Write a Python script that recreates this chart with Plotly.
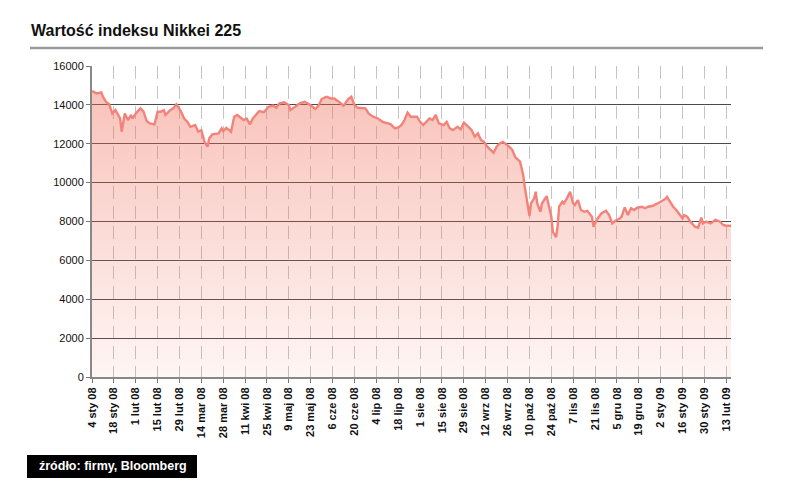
import plotly.graph_objects as go
import pandas as pd

# ---- data ----
dates = [
    "2008-01-04", "2008-01-07", "2008-01-10", "2008-01-11", "2008-01-13", "2008-01-15",
    "2008-01-17", "2008-01-19", "2008-01-22", "2008-01-23", "2008-01-25", "2008-01-27",
    "2008-01-29", "2008-01-30", "2008-02-01", "2008-02-04", "2008-02-06", "2008-02-08",
    "2008-02-10", "2008-02-13", "2008-02-15", "2008-02-17", "2008-02-19", "2008-02-20",
    "2008-02-23", "2008-02-25", "2008-02-27", "2008-03-01", "2008-03-03", "2008-03-05",
    "2008-03-07", "2008-03-10", "2008-03-12", "2008-03-14", "2008-03-16", "2008-03-18",
    "2008-03-19", "2008-03-21", "2008-03-25", "2008-03-27", "2008-03-28", "2008-03-30",
    "2008-04-02", "2008-04-04", "2008-04-06", "2008-04-08", "2008-04-10", "2008-04-12",
    "2008-04-14", "2008-04-16", "2008-04-18", "2008-04-20", "2008-04-23", "2008-04-26",
    "2008-04-29", "2008-05-01", "2008-05-03", "2008-05-06", "2008-05-09", "2008-05-10",
    "2008-05-13", "2008-05-16", "2008-05-19", "2008-05-22", "2008-05-26", "2008-05-28",
    "2008-05-30", "2008-06-02", "2008-06-05", "2008-06-07", "2008-06-10", "2008-06-13",
    "2008-06-16", "2008-06-18", "2008-06-20", "2008-06-22", "2008-06-27", "2008-06-29",
    "2008-07-02", "2008-07-05", "2008-07-08", "2008-07-13", "2008-07-16", "2008-07-18",
    "2008-07-20", "2008-07-22", "2008-07-24", "2008-07-26", "2008-07-30", "2008-08-01",
    "2008-08-03", "2008-08-05", "2008-08-07", "2008-08-09", "2008-08-11", "2008-08-13",
    "2008-08-16", "2008-08-18", "2008-08-20", "2008-08-22", "2008-08-25", "2008-08-27",
    "2008-08-29", "2008-09-01", "2008-09-03", "2008-09-05", "2008-09-07", "2008-09-09",
    "2008-09-11", "2008-09-13", "2008-09-17", "2008-09-19", "2008-09-21", "2008-09-23",
    "2008-09-26", "2008-09-27", "2008-09-29", "2008-10-01", "2008-10-04", "2008-10-05",
    "2008-10-06", "2008-10-07", "2008-10-09", "2008-10-10", "2008-10-11", "2008-10-13",
    "2008-10-14", "2008-10-15", "2008-10-17", "2008-10-18", "2008-10-21", "2008-10-22",
    "2008-10-24", "2008-10-25", "2008-10-27", "2008-10-28", "2008-10-29", "2008-10-31",
    "2008-11-01", "2008-11-03", "2008-11-05", "2008-11-07", "2008-11-08", "2008-11-10",
    "2008-11-12", "2008-11-14", "2008-11-16", "2008-11-19", "2008-11-20", "2008-11-22",
    "2008-11-25", "2008-11-28", "2008-11-30", "2008-12-02", "2008-12-04", "2008-12-07",
    "2008-12-08", "2008-12-09", "2008-12-10", "2008-12-12", "2008-12-14", "2008-12-16",
    "2008-12-18", "2008-12-21", "2008-12-23", "2008-12-25", "2008-12-28", "2008-12-31",
    "2009-01-03", "2009-01-05", "2009-01-06", "2009-01-08", "2009-01-10", "2009-01-12",
    "2009-01-14", "2009-01-16", "2009-01-17", "2009-01-19", "2009-01-21", "2009-01-24",
    "2009-01-26", "2009-01-28", "2009-01-29", "2009-01-31", "2009-02-03", "2009-02-06",
    "2009-02-09", "2009-02-11", "2009-02-13", "2009-02-16",
]
nikkei = [
    14710, 14590, 14640, 14420, 14150, 14030,
    13560, 13730, 13300, 12620, 13560, 13220,
    13480, 13300, 13560, 13820, 13650, 13170,
    13050, 13000, 13650, 13650, 13730, 13480,
    13730, 13820, 14030, 13650, 13300, 13130,
    12870, 12960, 12620, 12700, 12100, 11850,
    12270, 12480, 12530, 12790, 12650, 12820,
    12620, 13390, 13480, 13360, 13220, 13300,
    13000, 13300, 13480, 13680, 13620, 13900,
    13960, 13850, 14080, 14130, 13990, 13730,
    13900, 14080, 14160, 14030, 13790, 13960,
    14300, 14420, 14330, 14330, 14160, 13960,
    14300, 14420, 13990, 13850, 13820, 13560,
    13390, 13300, 13130, 13010, 12790, 12840,
    12960, 13220, 13600, 13390, 13390, 13130,
    12960, 13130, 13300, 13220, 13480, 13050,
    12960, 13130, 12790, 12700, 12870, 12740,
    13080, 12870, 12700, 12360, 12530, 12190,
    12100, 11850, 11540, 11850, 12020, 12100,
    11930, 11850, 11680, 11300, 11080, 10730,
    10390, 9790, 8760, 8280, 8930, 9190,
    9530, 8930, 8500, 8930, 9310, 8930,
    8250, 7470, 7190, 7730, 8760, 9020,
    8930, 9190, 9530, 8930, 8850, 9100,
    8590, 8500, 8550, 8250, 7730, 8080,
    8420, 8550, 8330, 7900, 8040, 8160,
    8250, 8500, 8720, 8330, 8680, 8590,
    8710, 8760, 8680, 8760, 8810, 8930,
    9050, 9160, 9270, 9020, 8760, 8590,
    8370, 8160, 8330, 8250, 7990, 7730,
    7680, 8200, 7900, 7990, 7900, 8080,
    7990, 7820, 7780, 7780,
]
tick_labels = [
    "4 sty 08", "18 sty 08", "1 lut 08", "15 lut 08", "29 lut 08", "14 mar 08",
    "28 mar 08", "11 kwi 08", "25 kwi 08", "9 maj 08", "23 maj 08", "6 cze 08",
    "20 cze 08", "4 lip 08", "18 lip 08", "1 sie 08", "15 sie 08", "29 sie 08",
    "12 wrz 08", "26 wrz 08", "10 paź 08", "24 paź 08", "7 lis 08", "21 lis 08",
    "5 gru 08", "19 gru 08", "2 sty 09", "16 sty 09", "30 sty 09", "13 lut 09",
]
tick_dates = pd.date_range("2008-01-04", periods=len(tick_labels), freq="14D")
y_ticks = [0, 2000, 4000, 6000, 8000, 10000, 12000, 14000, 16000]
y_labels = ["0", "2000", "4000", "6000", "8000", "10000", "12000", "14000", "16000"]

title_text = "Wartość indeksu Nikkei 225"
source_text = "źródło: firmy, Bloomberg"

# ---- layout geometry (page pixels; page body has an 8px margin) ----
OFF = 8
W, H = 788 - OFF, 498 - OFF
L, R, T, B = 92 - OFF, 731 - OFF, 66 - OFF, 377 - OFF


def px(x):
    return (x - OFF - L) / (R - L)


def py(y):
    return (B - (y - OFF)) / (B - T)


FONT = "Liberation Sans, Arial, Helvetica, sans-serif"

fig = go.Figure()
fig.add_trace(go.Scatter(
    x=dates, y=nikkei, mode="lines",
    line=dict(color="#f3837a", width=2.4),
    fill="tozeroy",
    fillgradient=dict(
        type="vertical", start=0, stop=16000,
        colorscale=[[0, "rgba(240,115,95,0.07)"], [1, "rgba(240,110,90,0.45)"]],
    ),
    hoverinfo="x+y",
))

fig.update_layout(
    width=W, height=H,
    margin=dict(l=L, r=W - R, t=T, b=H - B, autoexpand=False),
    paper_bgcolor="white", plot_bgcolor="white",
    showlegend=False,
    font=dict(family=FONT, size=11, color="#111"),
)

fig.update_xaxes(
    type="date",
    range=["2008-01-04", "2009-02-16"],
    tickmode="array", tickvals=tick_dates, ticktext=tick_labels,
    tickangle=-90, tickfont=dict(family=FONT, size=11, color="#111", weight="bold"),
    ticks="outside", ticklen=4, tickcolor="#777",
    showline=True, linecolor="#888", linewidth=2,
    showgrid=True, gridcolor="#c4c4c4", gridwidth=1, griddash="13px,7px",
    zeroline=False, automargin=False,
)
fig.update_yaxes(
    range=[0, 16000], tickmode="array", tickvals=y_ticks, ticktext=y_labels,
    ticks="outside", ticklen=4, tickcolor="#777",
    tickfont=dict(family=FONT, size=11, color="#111"),
    showline=True, linecolor="#888", linewidth=2,
    showgrid=True, gridcolor="#4a4a4a", gridwidth=1,
    zeroline=False, automargin=False,
)

# title
fig.add_annotation(
    x=px(29), y=py(30), xref="paper", yref="paper",
    xanchor="left", yanchor="middle", showarrow=False,
    text="<b>" + title_text + "</b>",
    font=dict(family=FONT, size=16, color="#111"),
)
# grey rule under title
fig.add_shape(
    type="line", xref="paper", yref="paper",
    x0=px(30), x1=px(763), y0=py(48), y1=py(48),
    line=dict(color="#9a9a9a", width=2.5),
)
# source box
fig.add_shape(
    type="rect", xref="paper", yref="paper",
    x0=px(27), x1=px(197), y0=py(455), y1=py(478),
    line=dict(width=0), fillcolor="black",
)
fig.add_annotation(
    x=px(37), y=py(466), xref="paper", yref="paper",
    xanchor="left", yanchor="middle", showarrow=False,
    text="<b>" + source_text + "</b>",
    font=dict(family=FONT, size=12.5, color="white"),
)

fig.write_html("out.html")
